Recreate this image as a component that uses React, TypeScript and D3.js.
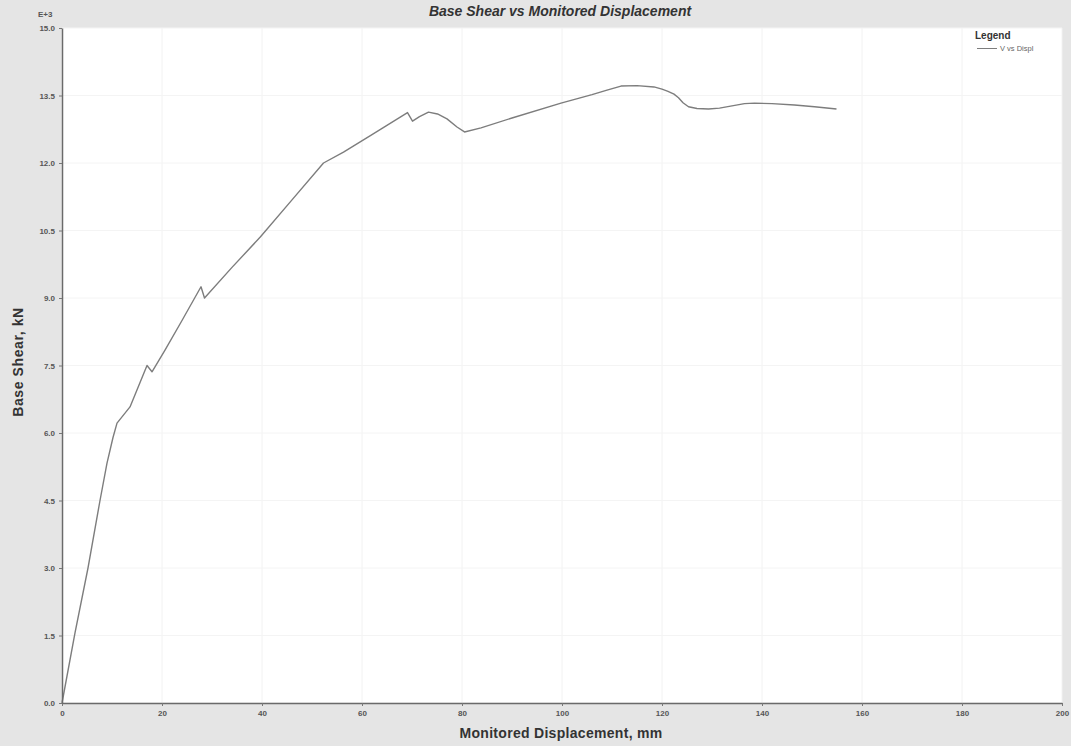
import { useRef, useEffect } from 'react';
import * as d3 from 'd3';

// monitored displacement, mm
const displacement = [
  0, 2.6, 5.2, 7.6, 9.0, 10.2, 11.0, 13.6, 17.0, 18.0, 20.6, 24.0, 27.8, 28.5,
  34.0, 39.7, 46.0, 52.3, 56.3, 62.0, 69.1, 70.1, 71.5, 73.3, 75.1, 77.0, 79.0,
  80.5, 83.8, 90.0, 99.8, 106.0, 109.0, 111.8, 115.0, 118.4, 120.0, 121.2, 122.4,
  123.3, 124.2, 125.3, 127.0, 129.3, 131.5, 134.0, 136.5, 138.5, 142.0, 146.5,
  150.5, 154.9,
];
// base shear, kN
const baseShear = [
  0, 1560, 3000, 4500, 5330, 5900, 6220, 6580, 7500, 7360, 7840, 8500, 9250, 9000,
  9680, 10360, 11180, 12000, 12240, 12630, 13120, 12930, 13030, 13130, 13090, 12980,
  12800, 12690, 12780, 13000, 13330, 13520, 13620, 13710, 13720, 13690, 13640, 13590,
  13530, 13450, 13340, 13250, 13210, 13200, 13220, 13270, 13320, 13330, 13320, 13290,
  13250, 13200,
];
const xTicks = [0, 20, 40, 60, 80, 100, 120, 140, 160, 180, 200];
const yTicks = [0, 1500, 3000, 4500, 6000, 7500, 9000, 10500, 12000, 13500, 15000];

const width = 1071;
const height = 746;
const margin = { top: 28, right: 9, bottom: 43, left: 62 };

export default function App() {
  const ref = useRef<SVGSVGElement>(null);

  useEffect(() => {
    if (!ref.current) return;
    const svg = d3.select(ref.current);
    svg.selectAll('*').remove();

    const innerWidth = width - margin.left - margin.right;
    const innerHeight = height - margin.top - margin.bottom;
    const font = 'Liberation Sans, Arial, sans-serif';

    const x = d3.scaleLinear().domain([0, 200]).range([0, innerWidth]);
    const y = d3.scaleLinear().domain([0, 15000]).range([innerHeight, 0]);

    // page background
    svg.append('rect').attr('width', width).attr('height', height).attr('fill', '#e5e5e5');

    const g = svg.append('g').attr('transform', `translate(${margin.left},${margin.top})`);

    g.append('rect')
      .attr('width', innerWidth)
      .attr('height', innerHeight)
      .attr('fill', '#ffffff');

    // faint grid
    g.selectAll('.vgrid')
      .data(xTicks)
      .enter()
      .append('line')
      .attr('x1', (d) => x(d))
      .attr('x2', (d) => x(d))
      .attr('y1', 0)
      .attr('y2', innerHeight)
      .attr('stroke', '#f2f2f2');
    g.selectAll('.hgrid')
      .data(yTicks)
      .enter()
      .append('line')
      .attr('x1', 0)
      .attr('x2', innerWidth)
      .attr('y1', (d) => y(d))
      .attr('y2', (d) => y(d))
      .attr('stroke', '#f4f4f4');

    // curve
    const pts = displacement.map((d, i) => [d, baseShear[i]] as [number, number]);
    const line = d3
      .line<[number, number]>()
      .x((d) => x(d[0]))
      .y((d) => y(d[1]));
    g.append('path')
      .datum(pts)
      .attr('fill', 'none')
      .attr('stroke', '#7d7d7d')
      .attr('stroke-width', 1.4)
      .attr('stroke-linejoin', 'round')
      .attr('d', line);

    // axes
    const xAxis = g
      .append('g')
      .attr('transform', `translate(0,${innerHeight})`)
      .call(
        d3
          .axisBottom(x)
          .tickValues(xTicks)
          .tickSize(3)
          .tickSizeOuter(0)
          .tickPadding(4)
          .tickFormat((d) => String(d))
      );
    xAxis.select('.domain').attr('stroke', '#6a6a6a').attr('stroke-width', 1.5);
    xAxis.selectAll('line').attr('stroke', '#777');
    xAxis
      .selectAll('text')
      .attr('fill', '#555')
      .style('font-family', font)
      .style('font-size', '8px')
      .style('font-weight', 'bold');

    const yAxis = g.append('g').call(
      d3
        .axisLeft(y)
        .tickValues(yTicks)
        .tickSize(3)
        .tickSizeOuter(0)
        .tickPadding(4)
        .tickFormat((d) => (Number(d) / 1000).toFixed(1))
    );
    yAxis.select('.domain').attr('stroke', '#6a6a6a').attr('stroke-width', 1.5);
    yAxis.selectAll('line').attr('stroke', '#777');
    yAxis
      .selectAll('text')
      .attr('fill', '#555')
      .style('font-family', font)
      .style('font-size', '8px')
      .style('font-weight', 'bold');

    // multiplier
    svg
      .append('text')
      .attr('x', 38)
      .attr('y', 17)
      .style('font-family', font)
      .style('font-size', '8px')
      .style('font-weight', 'bold')
      .attr('fill', '#555')
      .text('E+3');

    // title
    svg
      .append('text')
      .attr('x', 560)
      .attr('y', 16)
      .style('text-anchor', 'middle')
      .style('font-family', font)
      .style('font-size', '14px')
      .style('font-weight', 'bold')
      .style('font-style', 'italic')
      .attr('fill', '#333')
      .text('Base Shear vs Monitored Displacement');

    // axis titles
    svg
      .append('text')
      .attr('x', 561)
      .attr('y', 738)
      .style('text-anchor', 'middle')
      .style('font-family', font)
      .style('font-size', '14px')
      .style('font-weight', 'bold')
      .style('letter-spacing', '0.3px')
      .attr('fill', '#333')
      .text('Monitored Displacement, mm');

    svg
      .append('text')
      .attr('transform', 'rotate(-90)')
      .attr('x', -362)
      .attr('y', 23)
      .style('text-anchor', 'middle')
      .style('font-family', font)
      .style('font-size', '14px')
      .style('font-weight', 'bold')
      .style('letter-spacing', '0.6px')
      .attr('fill', '#333')
      .text('Base Shear, kN');

    // legend
    svg
      .append('text')
      .attr('x', 975)
      .attr('y', 39)
      .style('font-family', font)
      .style('font-size', '10px')
      .style('font-weight', 'bold')
      .attr('fill', '#333')
      .text('Legend');
    svg
      .append('line')
      .attr('x1', 977)
      .attr('x2', 997)
      .attr('y1', 48.5)
      .attr('y2', 48.5)
      .attr('stroke', '#7d7d7d')
      .attr('stroke-width', 1);
    svg
      .append('text')
      .attr('x', 1000)
      .attr('y', 51)
      .style('font-family', font)
      .style('font-size', '7.5px')
      .attr('fill', '#666')
      .text('V vs Displ');
  }, []);

  return (
    <svg
      ref={ref}
      width={width}
      height={height}
      style={{ position: 'absolute', left: 0, top: 0 }}
    />
  );
}
